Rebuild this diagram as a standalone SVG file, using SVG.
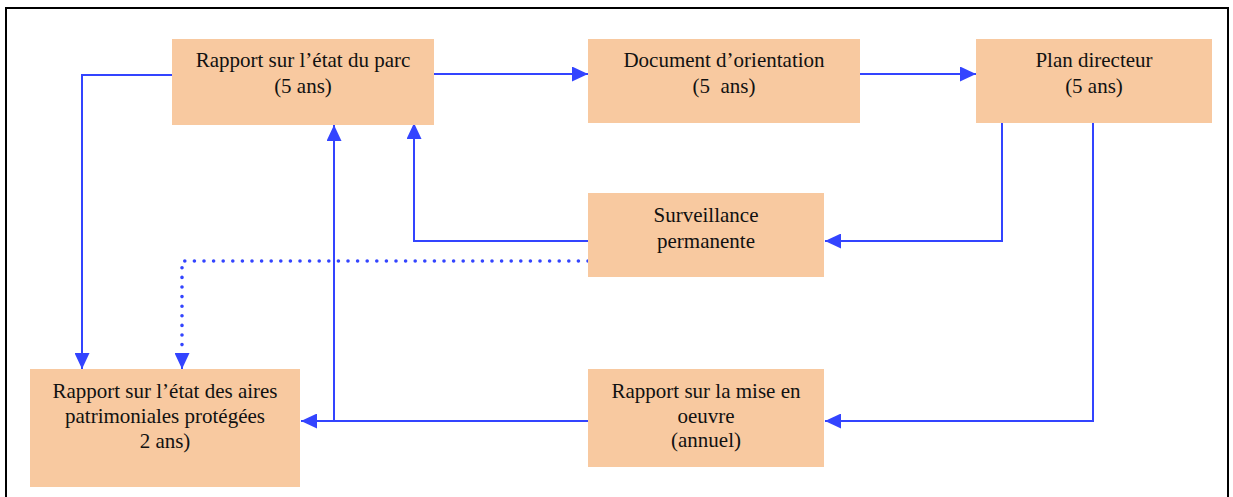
<svg xmlns="http://www.w3.org/2000/svg" width="1233" height="497" viewBox="0 0 1233 497">
<style>
.box{fill:#F8C9A0;stroke:none}
.t{font-size:21px;fill:#111;text-anchor:middle}
.c{fill:none;stroke:#3344FF;stroke-width:2}
.d{fill:none;stroke:#3344FF;stroke-width:3.6;stroke-dasharray:0 9.6;stroke-linecap:round}
</style>
<defs>
<marker id="ah" viewBox="0 0 16 15" refX="16" refY="7.5" markerWidth="16" markerHeight="15" markerUnits="userSpaceOnUse" orient="auto">
<path d="M0,0 L16,7.5 L0,15 Z" fill="#3344FF"/>
</marker>
</defs>
<rect x="6" y="8" width="1222" height="500" fill="none" stroke="#000" stroke-width="2"/>
<g id="connectors">
<path class="c" d="M172,75 H82 V369" marker-end="url(#ah)"/>
<path class="c" d="M434,74 H588" marker-end="url(#ah)"/>
<path class="c" d="M860,74 H976" marker-end="url(#ah)"/>
<path class="c" d="M1002,123 V241 H825" marker-end="url(#ah)"/>
<path class="c" d="M1093,123 V421 H825" marker-end="url(#ah)"/>
<path class="c" d="M588,241 H414 V123" marker-end="url(#ah)"/>
<path class="d" d="M588,261 H182 V350"/>
<path class="c" d="M182,353 V369" marker-end="url(#ah)"/>
<path class="c" d="M588,421 H301" marker-end="url(#ah)"/>
<path class="c" d="M334,421 V125" marker-end="url(#ah)"/>
</g>
<g font-family="Liberation Serif, Times New Roman, Times, serif">
<g id="etat-parc">
<rect class="box" x="172" y="39" width="262" height="86"/>
<text class="t" x="303" y="67">Rapport sur l’état du parc</text>
<text class="t" x="303" y="93">(5 ans)</text>
</g>
<g id="doc-orientation">
<rect class="box" x="588" y="39" width="272" height="84"/>
<text class="t" x="724" y="67">Document d’orientation</text>
<text class="t" x="724" y="93">(5&#160; ans)</text>
</g>
<g id="plan-directeur">
<rect class="box" x="976" y="39" width="236" height="84"/>
<text class="t" x="1094" y="67">Plan directeur</text>
<text class="t" x="1094" y="93">(5 ans)</text>
</g>
<g id="surveillance">
<rect class="box" x="588" y="193" width="236" height="84"/>
<text class="t" x="706" y="222">Surveillance</text>
<text class="t" x="706" y="248">permanente</text>
</g>
<g id="aires-protegees">
<rect class="box" x="30" y="369" width="270" height="118"/>
<text class="t" x="165" y="398">Rapport sur l’état des aires</text>
<text class="t" x="165" y="423">patrimoniales protégées</text>
<text class="t" x="165" y="448">2 ans)</text>
</g>
<g id="mise-en-oeuvre">
<rect class="box" x="588" y="369" width="236" height="98"/>
<text class="t" x="706" y="398">Rapport sur la mise en</text>
<text class="t" x="706" y="423">oeuvre</text>
<text class="t" x="706" y="447">(annuel)</text>
</g>
</g>
</svg>
